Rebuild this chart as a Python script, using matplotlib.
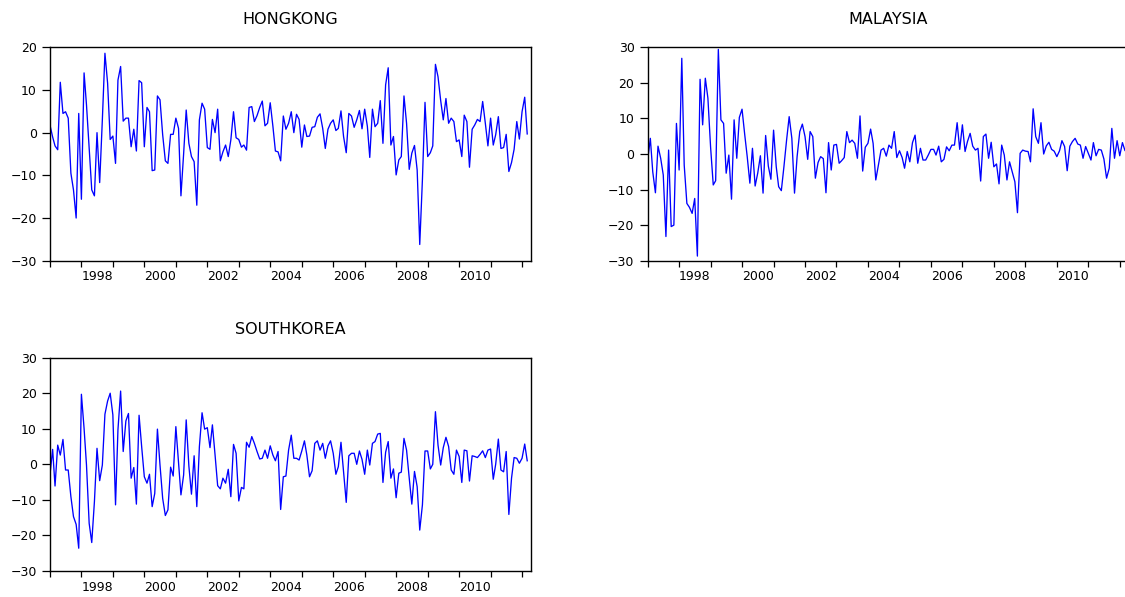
import matplotlib
matplotlib.use("Agg")
import matplotlib.pyplot as plt
import matplotlib.dates as mdates
import pandas as pd

# monthly returns, 1997M01 onwards
hongkong = [1.8, -1.0, -3.1, -4.0, 11.8, 4.5, 4.9, 3.4, -9.5, -13.4,
            -20.0, 4.5, -15.6, 14.0, 6.5, -3.5, -13.4, -14.8, 0.0, -11.7,
            3.0, 18.6, 11.6, -1.6, -0.8, -7.2, 12.3, 15.5, 2.7, 3.4,
            3.4, -3.3, 0.8, -4.3, 12.2, 11.7, -3.3, 5.9, 4.9, -8.9,
            -8.75, 8.6, 7.7, -0.5, -6.6, -7.2, -0.4, -0.4, 3.4, 1.0,
            -14.8, -5.0, 5.3, -2.5, -5.6, -6.8, -17.0, 3.0, 6.9, 5.5,
            -3.5, -3.9, 3.1, 0.0, 5.5, -6.6, -4.5, -2.9, -5.6, -1.7,
            4.9, -1.2, -1.6, -3.4, -2.9, -4.1, 5.9, 6.1, 2.6, 4.0,
            5.9, 7.4, 1.6, 2.2, 7.0, 1.5, -4.3, -4.5, -6.6, 3.9,
            0.8, 2.2, 4.9, 0.0, 4.3, 3.1, -3.4, 1.8, -0.9, -0.8,
            1.25, 1.4, 3.6, 4.4, 1.0, -3.7, 0.8, 2.2, 3.0, 0.5,
            1.0, 5.1, -0.9, -4.7, 4.5, 3.9, 1.25, 3.0, 5.2, 0.9,
            5.5, 1.5, -5.8, 5.5, 1.4, 2.2, 7.5, -2.5, 11.2, 15.2,
            -2.9, -0.9, -9.9, -6.4, -5.6, 8.6, 2.2, -8.6, -4.8, -3.0,
            -8.75, -26.2, -11.0, 7.1, -5.6, -4.7, -3.1, 16.0, 13.1, 7.5,
            3.0, 8.0, 2.2, 3.4, 2.6, -2.1, -1.7, -5.6, 4.1, 2.6,
            -8.1, 0.8, 1.8, 3.1, 2.6, 7.3, 2.2, -3.1, 3.4, -2.9,
            -0.5, 3.75, -3.7, -3.5, -0.4, -9.1, -7.0, -3.9, 2.6, -1.5,
            4.9, 8.3, -0.3]

malaysia = [-1.7, 4.4, -5.0, -10.9, 2.2, -1.2, -5.9, -23.2, 1.1, -20.4,
            -20.0, 8.6, -4.5, 26.9, -3.1, -13.9, -15.0, -16.7, -12.5, -28.7,
            21.0, 8.2, 21.3, 15.7, 2.0, -8.7, -7.5, 29.4, 9.6, 8.6,
            -5.4, -0.3, -12.7, 9.6, -1.2, 10.3, 12.6, 5.5, -0.7, -8.2,
            1.6, -9.0, -5.4, -0.5, -11.0, 5.2, -3.4, -7.1, 6.7, -3.6,
            -9.2, -10.3, -3.6, 3.9, 10.5, 4.4, -11.0, -0.75, 6.3, 8.4,
            4.9, -1.5, 6.3, 4.9, -6.8, -2.4, -0.75, -1.3, -10.9, 3.2,
            -4.5, 2.5, 2.7, -2.6, -1.9, -1.0, 6.3, 3.2, 3.9, 3.0,
            -1.2, 10.7, -4.8, 1.9, 3.0, 7.0, 3.0, -7.3, -3.1, 1.1,
            1.6, -0.6, 2.5, 1.6, 6.3, -1.0, 0.9, -1.0, -4.0, 0.7,
            -2.2, 3.2, 5.3, -2.6, 1.6, -1.7, -1.7, -0.3, 1.3, 1.3,
            -0.3, 2.2, -2.2, -1.5, 2.0, 0.9, 2.5, 2.5, 8.8, 1.3,
            8.2, 0.7, 3.5, 5.8, 2.2, 1.1, 1.6, -7.6, 4.9, 5.6,
            -1.2, 3.3, -3.6, -2.8, -8.4, 2.5, -0.3, -7.3, -2.2, -5.0,
            -7.8, -16.5, 0.2, 1.1, 0.8, 0.7, -2.2, 12.7, 4.9, 3.0,
            8.8, 0.0, 2.3, 3.3, 1.3, 0.8, -0.75, 0.9, 3.75, 2.1,
            -4.7, 2.2, 3.5, 4.4, 2.8, 2.5, -1.2, 2.1, 0.2, -1.7,
            3.2, -0.5, 1.3, 1.1, -1.4, -6.8, -4.0, 7.2, -1.2, 3.75,
            -0.5, 3.2, 1.0]

southkorea = [-3.0, 4.2, -6.1, 5.4, 2.6, 7.0, -1.6, -1.6, -9.1, -14.7,
              -16.9, -23.6, 19.7, 10.1, -0.2, -16.6, -22.0, -10.5, 4.5, -4.6,
              -0.2, 14.1, 17.8, 20.0, 13.9, -11.4, 9.7, 20.6, 3.6, 12.2,
              14.3, -3.9, -0.9, -11.2, 13.8, 5.0, -3.5, -5.3, -2.8, -11.9,
              -8.2, 9.9, -0.2, -9.6, -14.4, -12.8, -0.8, -3.3, 10.6, 0.7,
              -8.6, -3.0, 12.5, -0.5, -8.4, 2.4, -11.9, 5.0, 14.5, 9.9,
              10.3, 4.7, 11.1, 2.6, -6.0, -6.9, -3.9, -5.3, -1.4, -9.1,
              5.6, 3.1, -10.3, -6.5, -6.9, 6.2, 4.8, 7.8, 5.9, 3.6,
              1.5, 1.7, 4.0, 1.7, 5.2, 2.6, 1.0, 3.6, -12.7, -3.5,
              -3.3, 4.0, 8.2, 1.7, 1.7, 1.2, 3.75, 6.6, 2.6, -3.5,
              -1.8, 5.9, 6.6, 4.0, 5.9, 1.7, 5.2, 6.6, 3.1, -2.8,
              -0.7, 6.2, -2.0, -10.7, 2.4, 3.1, 3.1, 0.0, 3.75, 1.4,
              -2.8, 4.0, -0.2, 5.9, 6.4, 8.5, 8.7, -5.1, 3.4, 6.4,
              -3.9, -1.3, -9.4, -2.5, -2.2, 7.3, 4.0, -3.9, -11.2, -2.0,
              -6.3, -18.5, -11.4, 3.75, 3.75, -1.3, 0.0, 14.8, 5.4, -0.2,
              4.7, 7.6, 5.0, -1.6, -2.8, 4.0, 2.2, -5.1, 4.0, 3.8,
              -4.7, 2.4, 2.2, 1.9, 2.8, 3.8, 1.9, 4.0, 4.3, -4.2,
              0.0, 7.1, -1.6, -2.1, 3.6, -14.1, -3.9, 1.9, 1.7, 0.3,
              1.7, 5.7, 1.0]

dates = pd.date_range("1997-01-01", periods=len(hongkong), freq="MS")
year_labels = [1998, 2000, 2002, 2004, 2006, 2008, 2010]

plt.rcParams["font.family"] = ["DejaVu Sans"]

fig = plt.figure(figsize=(11.25, 5.97), dpi=100)

panels = [
    ("HONGKONG", hongkong, [0.0444, 0.5633, 0.4273, 0.3575], (-30, 20), range(-30, 21, 10)),
    ("MALAYSIA", malaysia, [0.5757, 0.5633, 0.4273, 0.3575], (-30, 30), range(-30, 31, 10)),
    ("SOUTHKOREA", southkorea, [0.0444, 0.0436, 0.4273, 0.3573], (-30, 30), range(-30, 31, 10)),
]

for title, values, pos, ylim, yticks in panels:
    ax = fig.add_axes(pos)
    ax.plot(dates, values, color="#0000ff", lw=0.95)
    ax.set_xlim(dates[0], pd.Timestamp("2012-04-10"))
    ax.set_ylim(*ylim)
    ax.set_yticks(list(yticks))

    # year boundaries get the tick marks, labels sit in the middle of the year
    ax.xaxis.set_major_locator(mdates.YearLocator(1))
    ax.xaxis.set_major_formatter(plt.NullFormatter())
    mids = [mdates.date2num(pd.Timestamp(f"{y}-07-02")) for y in year_labels]
    ax.xaxis.set_minor_locator(plt.FixedLocator(mids))
    ax.xaxis.set_minor_formatter(plt.FixedFormatter([str(y) for y in year_labels]))

    ax.tick_params(axis="x", which="major", length=4.5, width=0.9, direction="out")
    ax.tick_params(axis="x", which="minor", length=0, pad=7, labelsize=9)
    ax.tick_params(axis="y", length=5.5, width=0.9, pad=4, labelsize=9)
    ax.tick_params(top=False, right=False)

    for s in ax.spines.values():
        s.set_linewidth(1.0)
        s.set_color("black")

    ax.set_title(title, fontsize=11.5, pad=17)

fig.savefig("out.png", dpi=100)
